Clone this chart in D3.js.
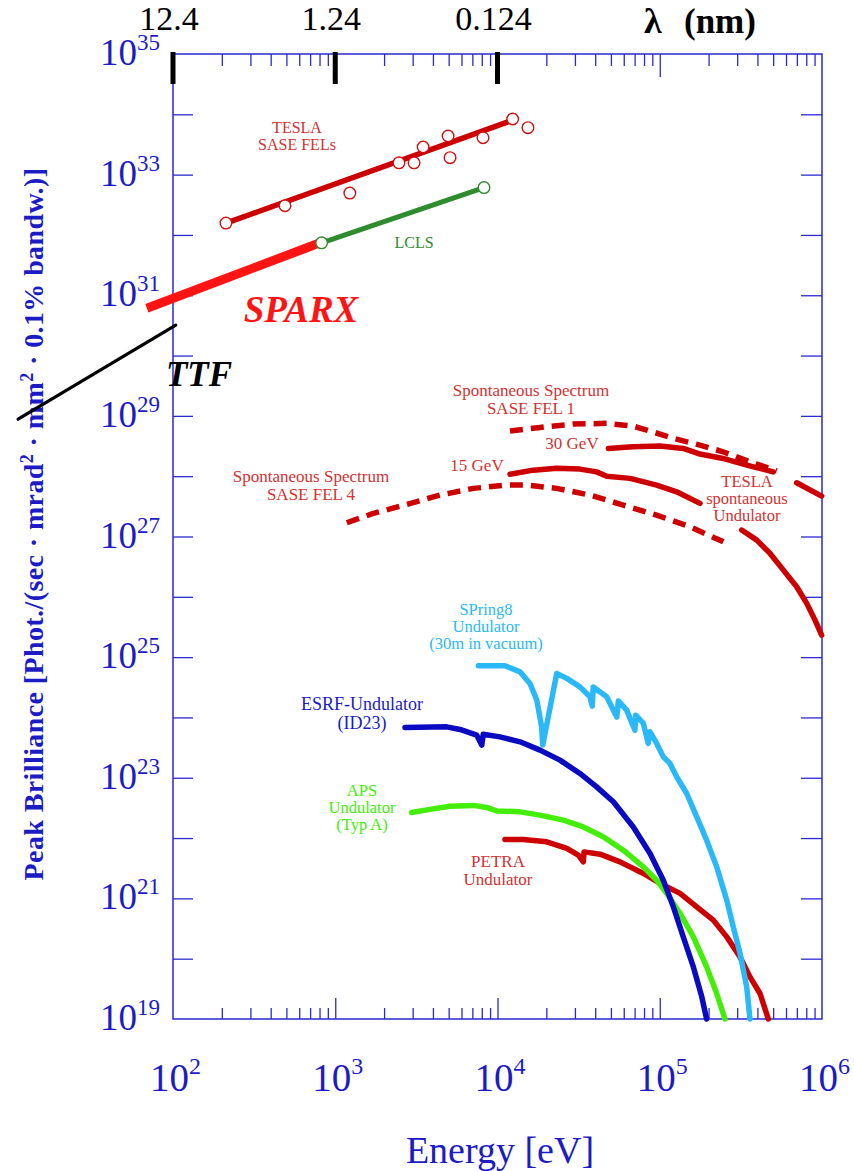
<!DOCTYPE html>
<html>
<head>
<meta charset="utf-8">
<script src="https://cdn.jsdelivr.net/npm/d3@7"></script>
<style>
  html, body { margin: 0; padding: 0; background: #ffffff; }
  svg { display: block; }
</style>
</head>
<body>
<svg id="chart" width="854" height="1171"></svg>
<script>
// ---------------- DATA (energy in eV, peak brilliance) ----------------
const energyDecades = [1e2, 1e3, 1e4, 1e5, 1e6];
const brillianceDecades = [1e19,1e20,1e21,1e22,1e23,1e24,1e25,1e26,1e27,1e28,1e29,1e30,1e31,1e32,1e33,1e34,1e35];
const brillianceLabelExponents = [35, 33, 31, 29, 27, 25, 23, 21, 19];
const energyLabelExponents = [2, 3, 4, 5, 6];
const wavelengthTicksNm = [12.4, 1.24, 0.124];

const teslaFelPoints = [
  [212, 1.57e32], [490, 3.05e32], [1230, 4.95e32], [2470, 1.57e33], [3060, 1.57e33],
  [3480, 2.87e33], [4960, 4.37e33], [5100, 1.91e33], [8140, 4.09e33], [12400, 8.36e33],
  [15400, 6.0e33]
];
const teslaFelLine = [[212, 1.57e32], [11600, 7.5e33]];
const lclsLine = [[824, 7.4e31], [8260, 6.1e32]];
const sparxLine = [[69, 6.1e30], [805, 7.4e31]];
const ttfLine = [[11.1, 8.8e28], [104, 3.2e30]];

const spontFel1 = [
  [11940, 5.60e28], [18280, 6.44e28], [29170, 7.31e28], [47100, 7.52e28], [68400, 6.78e28],
  [83200, 5.82e28], [121600, 4.24e28], [177000, 3.28e28], [245500, 2.54e28], [359700, 1.73e28],
  [526000, 1.23e28]
];
const spontFel4 = [
  [1178, 1.69e27], [1718, 2.42e27], [2754, 3.40e27], [4426, 4.86e27], [7096, 6.28e27],
  [11400, 7.11e27], [15140, 7.11e27], [23170, 6.28e27], [37150, 4.86e27], [59570, 3.32e27],
  [95700, 2.26e27], [153500, 1.45e27], [246600, 8.17e26]
];
const tesla30GeV = [
  [48200, 2.89e28], [68400, 3.08e28], [100500, 3.16e28], [139600, 2.89e28], [177000, 2.33e28],
  [245500, 1.97e28], [343600, 1.53e28], [501000, 1.18e28]
];
const tesla30GeVTail = [[698000, 7.78e27], [995000, 4.68e27]];
const tesla15GeV = [
  [11940, 1.08e28], [16630, 1.26e28], [23170, 1.35e28], [32200, 1.31e28], [40800, 1.18e28],
  [47100, 1.00e28], [65600, 9.20e27], [95700, 7.11e27], [127100, 5.51e27], [177000, 3.54e27]
];
const tesla15GeVTail = [
  [319900, 1.28e27], [396300, 8.71e26], [478600, 5.24e26], [578100, 2.77e26], [698000, 1.47e26],
  [805400, 7.78e25], [905700, 4.11e25], [995000, 2.32e25]
];
const spring8 = [
  [7621, 7.18e24], [11120, 7.18e24], [13770, 5.70e24], [15850, 3.66e24], [17460, 1.94e24],
  [18710, 6.98e23], [19010, 3.48e23], [23170, 5.37e24], [26730, 4.44e24], [32210, 3.21e24],
  [37150, 2.20e24], [38370, 1.54e24], [38900, 3.21e24], [47100, 2.20e24], [54330, 1.02e24],
  [55590, 1.88e24], [62520, 1.32e24], [70310, 6.15e23], [71120, 1.09e24], [79250, 7.94e23],
  [84920, 3.71e23], [87100, 5.77e23], [95710, 3.71e23], [105200, 2.22e23], [115600, 1.73e23],
  [127100, 1.04e23], [146600, 5.48e22], [169000, 2.25e22], [194500, 9.23e21], [224400, 3.33e21],
  [258800, 9.33e20], [283800, 3.37e20], [312600, 1.22e20], [343600, 3.40e19], [359700, 1.0e19]
];
const esrf = [
  [2692, 6.82e23], [4864, 6.98e23], [5875, 6.32e23], [7447, 5.08e23], [8000, 3.48e23],
  [8166, 5.28e23], [10350, 4.76e23], [13770, 3.94e23], [18280, 2.87e23], [24270, 1.96e23],
  [32210, 1.18e23], [40830, 7.06e22], [51760, 3.99e22], [68710, 1.53e22], [87100, 5.56e21],
  [105200, 2.00e21], [121300, 7.23e20], [139600, 2.30e20], [161100, 7.31e19], [181600, 2.33e19],
  [194500, 1.0e19]
];
const aps = [
  [2958, 2.66e22], [3837, 2.99e22], [5093, 3.38e22], [7096, 3.48e22], [8570, 3.22e22],
  [9886, 2.82e22], [13770, 2.72e22], [18280, 2.40e22], [25470, 1.98e22], [33810, 1.53e22],
  [44870, 1.05e22], [59570, 6.30e21], [79250, 3.33e21], [95710, 2.00e21], [110400, 1.21e21],
  [133400, 5.62e20], [161100, 2.30e20], [194500, 7.31e19], [224400, 2.65e19], [252300, 1.0e19]
];
const petra = [
  [11120, 9.48e21], [14420, 9.48e21], [20090, 8.67e21], [26730, 6.73e21], [31480, 5.20e21],
  [33810, 4.03e21], [34120, 5.90e21], [42850, 5.41e21], [56890, 4.03e21], [79250, 2.59e21],
  [100500, 1.77e21], [133400, 1.21e21], [169000, 7.23e20], [213800, 4.36e20], [258800, 2.30e20],
  [312600, 1.07e20], [359700, 4.99e19], [415000, 2.65e19], [466700, 1.0e19]
];

// ---------------- LAYOUT ----------------
const AX = "#2a2ad2";
const AXT = "#1c1cc4";
const SERIF = "'Liberation Serif', 'Times New Roman', serif";
const L = 173, R = 822, T = 54, B = 1019;

const svg = d3.select("#chart");
const x = d3.scaleLog().domain([1e2, 1e6]).range([L, R]);
const y = d3.scaleLog().domain([1e19, 1e35]).range([B, T]);

const minorE = [];
for (let d = 2; d < 6; d++) for (let k = 2; k <= 9; k++) minorE.push(k * Math.pow(10, d));
const innerDecadesE = energyDecades.slice(1, -1);
const innerDecadesB = brillianceDecades.slice(1, -1);

function styleAxis(g) {
  g.select(".domain").remove();
  g.selectAll(".tick line").attr("stroke", AX).attr("stroke-width", 1.3);
  g.selectAll(".tick text").remove();
}

// bottom axis
svg.append("g").attr("transform", `translate(0,${B})`)
  .call(d3.axisBottom(x).tickValues(minorE).tickSize(-11).tickFormat(""))
  .call(styleAxis);
svg.append("g").attr("transform", `translate(0,${B})`)
  .call(d3.axisBottom(x).tickValues(innerDecadesE).tickSize(-21).tickFormat(""))
  .call(styleAxis);
// top axis
svg.append("g").attr("transform", `translate(0,${T})`)
  .call(d3.axisTop(x).tickValues(minorE).tickSize(-12).tickFormat(""))
  .call(styleAxis);
svg.append("g").attr("transform", `translate(0,${T})`)
  .call(d3.axisTop(x).tickValues([1e5]).tickSize(-23).tickFormat(""))
  .call(styleAxis);
// left / right axes
svg.append("g").attr("transform", `translate(${L},0)`)
  .call(d3.axisLeft(y).tickValues(innerDecadesB).tickSize(-20).tickFormat(""))
  .call(styleAxis);
svg.append("g").attr("transform", `translate(${R},0)`)
  .call(d3.axisRight(y).tickValues(innerDecadesB).tickSize(-21).tickFormat(""))
  .call(styleAxis);

// frame
svg.append("rect").attr("x", L).attr("y", T).attr("width", R - L).attr("height", B - T)
  .attr("fill", "none").attr("stroke", AX).attr("stroke-width", 1.5);

// wavelength ticks (black, thick)
svg.append("g").selectAll("line").data(wavelengthTicksNm).join("line")
  .attr("x1", d => x(1239.84 / d)).attr("x2", d => x(1239.84 / d))
  .attr("y1", T - 2).attr("y2", T + 30)
  .attr("stroke", "#000").attr("stroke-width", 5);
svg.append("g").selectAll("text").data(wavelengthTicksNm).join("text")
  .attr("x", d => x(1239.84 / d) - 4).attr("y", 30)
  .attr("text-anchor", "middle").attr("font-family", SERIF).attr("font-size", 34)
  .attr("fill", "#000").text(d => d);
svg.append("text").attr("x", 644).attr("y", 33).attr("font-family", SERIF)
  .attr("font-size", 36).attr("font-weight", "bold").attr("fill", "#000").text("λ");
svg.append("text").attr("x", 684).attr("y", 33).attr("font-family", SERIF)
  .attr("font-size", 35).attr("font-weight", "bold").attr("fill", "#000").text("(nm)");

// y tick labels
const yl = svg.append("g").selectAll("text").data(brillianceLabelExponents).join("text")
  .attr("x", 100).attr("y", d => y(Math.pow(10, d)) + 11)
  .attr("font-family", SERIF).attr("fill", AXT);
yl.append("tspan").attr("font-size", 37).text("10");
yl.append("tspan").attr("font-size", 23).attr("dy", -15).text(d => d);

// x tick labels
const xl = svg.append("g").selectAll("text").data(energyLabelExponents).join("text")
  .attr("x", d => x(Math.pow(10, d)) - 23).attr("y", 1091)
  .attr("font-family", SERIF).attr("fill", AXT);
xl.append("tspan").attr("font-size", 39).text("10");
xl.append("tspan").attr("font-size", 24).attr("dy", -17).text(d => d);

// axis titles
svg.append("text").attr("x", 500).attr("y", 1163).attr("text-anchor", "middle")
  .attr("font-family", SERIF).attr("font-size", 38).attr("fill", AXT).text("Energy [eV]");
const yt = svg.append("text").attr("transform", "translate(43,524) rotate(-90)")
  .attr("text-anchor", "middle").attr("font-family", SERIF).attr("font-size", 28)
  .attr("font-weight", "bold").attr("fill", AXT).attr("letter-spacing", 0.4);
yt.append("tspan").text("Peak Brilliance [Phot./(sec · mrad");
yt.append("tspan").attr("dy", -10).attr("font-size", 18).text("2");
yt.append("tspan").attr("dy", 10).text(" · mm");
yt.append("tspan").attr("dy", -10).attr("font-size", 18).text("2");
yt.append("tspan").attr("dy", 10).text(" · 0.1% bandw.)]");

// ---------------- SERIES ----------------
const line = d3.line().x(d => x(d[0])).y(d => y(d[1]));
function path(data, color, width, dash) {
  const p = svg.append("path").datum(data).attr("d", line)
    .attr("fill", "none").attr("stroke", color).attr("stroke-width", width)
    .attr("stroke-linejoin", "round").attr("stroke-linecap", dash ? "butt" : "round");
  if (dash) p.attr("stroke-dasharray", dash);
  return p;
}

const RED = "#cc0000";
path(ttfLine, "#000", 3.2);
path(sparxLine, "#ff1414", 9).attr("stroke-linecap", "butt");
path(teslaFelLine, RED, 5.5);
path(lclsLine, "#2e8b2e", 5);
path(spontFel1, RED, 5.5, "13,8");
path(spontFel4, RED, 5.5, "13,8");
path(tesla30GeV, RED, 5.5);
path(tesla30GeVTail, RED, 5.5);
path(tesla15GeV, RED, 5.5);
path(tesla15GeVTail, RED, 5.5);
path(petra, RED, 5.5);
path(aps, "#44ee0a", 5.5);
path(esrf, "#0a0ac0", 5.5);
path(spring8, "#2ab8f8", 5.5);

svg.append("g").selectAll("circle").data(teslaFelPoints).join("circle")
  .attr("cx", d => x(d[0])).attr("cy", d => y(d[1])).attr("r", 5.8)
  .attr("fill", "#fff").attr("stroke", "#d01010").attr("stroke-width", 1.4);
svg.append("g").selectAll("circle").data(lclsLine).join("circle")
  .attr("cx", d => x(d[0])).attr("cy", d => y(d[1])).attr("r", 5.8)
  .attr("fill", "#fff").attr("stroke", "#2e8b2e").attr("stroke-width", 1.4);

// ---------------- LABELS ----------------
function label(lines, cx, y0, color, size, opts) {
  const lh = (opts && opts.lh) || 18;
  lines.forEach((s, i) => {
    const t = svg.append("text").attr("text-anchor", "middle").attr("font-family", SERIF)
      .attr("font-size", size).attr("fill", color)
      .attr("x", cx).attr("y", y0 + i * lh).text(s);
    if (opts && opts.weight) t.attr("font-weight", opts.weight);
    if (opts && opts.style) t.attr("font-style", opts.style);
  });
}
const LRED = "#d23232";
label(["TESLA", "SASE FELs"], 297, 133, LRED, 16, { lh: 17 });
label(["LCLS"], 414, 248, "#2e8b2e", 16);
label(["SPARX"], 301, 322, "#ff1414", 37, { weight: "bold", style: "italic" });
label(["TTF"], 199, 386, "#000", 35, { weight: "bold", style: "italic" });
label(["Spontaneous Spectrum", "SASE FEL 1"], 531, 396, LRED, 17);
label(["30 GeV"], 572, 449, LRED, 17);
label(["15 GeV"], 477, 471, LRED, 17);
label(["Spontaneous Spectrum", "SASE FEL 4"], 311, 482, LRED, 17);
label(["TESLA", "spontaneous", "Undulator"], 747, 487, LRED, 16.5, { lh: 17 });
label(["SPring8", "Undulator", "(30m in vacuum)"], 486, 615, "#2ab8f8", 16.5, { lh: 17 });
label(["ESRF-Undulator", "(ID23)"], 362, 710, "#1a1ac8", 18, { lh: 18.5 });
label(["APS", "Undulator", "(Typ A)"], 362, 796, "#44ee0a", 16.5, { lh: 17 });
label(["PETRA", "Undulator"], 498, 867, LRED, 17);
</script>
</body>
</html>
